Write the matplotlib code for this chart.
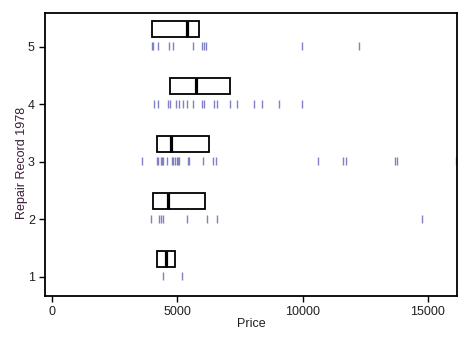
import matplotlib
matplotlib.use("Agg")
import matplotlib.pyplot as plt
from matplotlib.patches import Rectangle

plt.rcParams['font.family'] = ['Liberation Sans', 'DejaVu Sans']

groups = [1, 2, 3, 4, 5]
q1 = [4195, 4036, 4195, 4715, 3996]
med = [4543, 4623, 4743, 5742, 5394]
q3 = [4903, 6089, 6273, 7112, 5874]

prices_1 = [4435, 5194]
prices_2 = [3932, 4275, 4331, 4411, 5370, 6169, 6593, 14760]
prices_3 = [3572, 4171, 4211, 4331, 4371, 4411, 4571, 4771, 4811, 4915, 4971,
            5023, 5063, 5434, 5474, 6033, 6433, 6529, 10629, 11627, 11723,
            13693, 13785, 16140]
prices_4 = [4076, 4211, 4635, 4715, 4931, 5075, 5210, 5370, 5634, 5970, 6073,
            6473, 6569, 7100, 7392, 8071, 8391, 9070, 9989]
prices_5 = [3996, 4036, 4236, 4675, 4835, 5634, 5994, 6062, 6142, 9965, 12267]
rugs = [prices_1, prices_2, prices_3, prices_4, prices_5]

xticks = [0, 5000, 10000, 15000]

fig = plt.figure(figsize=(4.71, 3.42), dpi=100)
ax = fig.add_axes([45.3/471, (342-295.7)/342, (457.3-45.3)/471, (295.7-13.3)/342])

rug_color = '#8080c4'
for g, vals in zip(groups, rugs):
    ax.vlines(vals, g - 0.058, g + 0.077, color=rug_color, lw=1.0)

box_lo, box_hi = 0.17, 0.45
for g, a, m, b in zip(groups, q1, med, q3):
    ax.add_patch(Rectangle((a, g + box_lo), b - a, box_hi - box_lo,
                           fill=False, edgecolor='black', lw=1.3))
    ax.plot([m, m], [g + box_lo, g + box_hi], color='black', lw=2.3,
            solid_capstyle='butt')

ax.set_xlim(-280, 16180)
ax.set_ylim(0.67, 5.58)
ax.set_xticks(xticks)
ax.set_xticklabels([str(t) for t in xticks])
ax.set_yticks(groups)
ax.tick_params(direction='out', length=4, width=1, labelsize=9,
               labelcolor='#202020', color='black')
for s in ax.spines.values():
    s.set_linewidth(1.3)
ax.set_xlabel('Price', fontsize=9, color='#202020', labelpad=0)
ax.set_ylabel('Repair Record 1978', fontsize=9, color='#3a1a3a')
ax.yaxis.set_label_coords(-0.041, 0.47)

fig.savefig('out.png', dpi=100)
